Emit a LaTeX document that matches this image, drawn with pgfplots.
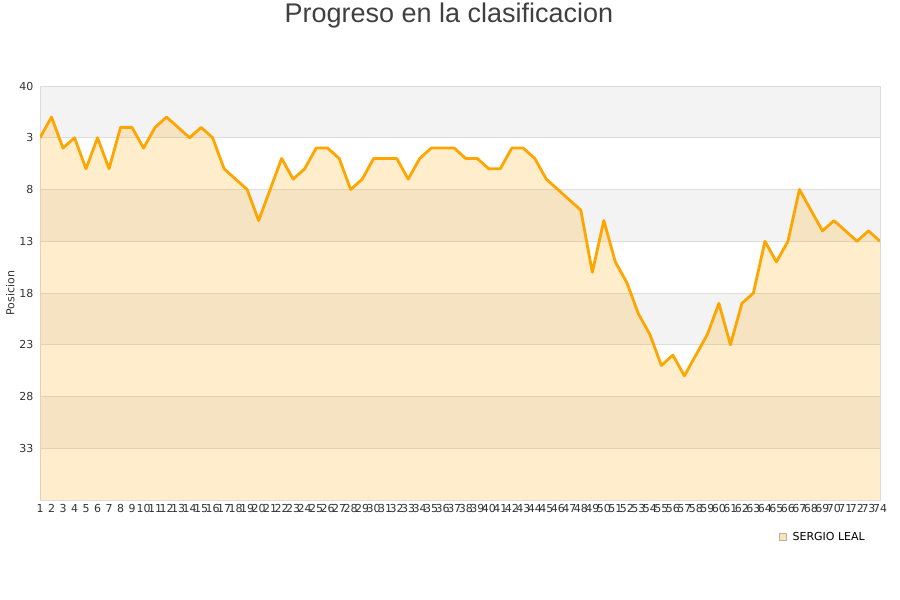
\documentclass[border=0pt]{standalone}
\usepackage{fontspec}
\setmainfont{DejaVu Sans}
\newfontfamily\titlefont{Liberation Sans}
\usepackage{pgfplots}
\pgfplotsset{compat=1.18}
\definecolor{lineor}{HTML}{FFA500}
\definecolor{band}{HTML}{F3F3F3}
\definecolor{gridc}{HTML}{DDDDDD}
\definecolor{txt}{HTML}{333333}
\begin{document}
\begin{tikzpicture}[x=1pt,y=1pt]
\path (0,0) rectangle (900,600);
\node[font=\titlefont\fontsize{27}{31}\selectfont, text=black!75] at (449,584) {Progreso en la clasificacion};
\begin{axis}[
    set layers,
    at={(40pt,100pt)}, anchor=south west,
    scale only axis, width=840pt, height=414pt,
    xmin=1, xmax=74, ymin=-2, ymax=38,
    y dir=reverse,
    xtick={1,...,74},
    ytick={-2,3,8,13,18,23,28,33},
    yticklabels={40,3,8,13,18,23,28,33},
    major tick length=0pt,
    ymajorgrids, grid style={gridc, line width=0.6pt},
    axis line style={gridc, line width=0.8pt},
    tick label style={text=txt},
    xticklabel style={font=\fontsize{11}{13}\selectfont, yshift=-1pt},
    yticklabel style={font=\fontsize{11}{13}\selectfont, xshift=-3pt},
    /pgf/number format/assume math mode=true,
    ylabel={Posicion}, ylabel style={font=\fontsize{11}{13}\selectfont, text=txt, yshift=-2pt},
    legend style={at={(1,0)}, anchor=north east, xshift=-10pt, yshift=-28pt,
        draw=none, fill=none, font=\fontsize{11}{13}\selectfont, text=black,
        /tikz/every odd column/.append style={column sep=4pt}},
    legend image code/.code={\draw[fill=lineor!30, draw=gray!60, line width=0.6pt] (0pt,-3.5pt) rectangle (7pt,3.5pt);},
]
\begin{pgfonlayer}{axis background}
\fill[band] (axis cs:1,-2) rectangle (axis cs:74,3);
\fill[band] (axis cs:1,8) rectangle (axis cs:74,13);
\fill[band] (axis cs:1,18) rectangle (axis cs:74,23);
\fill[band] (axis cs:1,28) rectangle (axis cs:74,33);
\end{pgfonlayer}
\addplot[draw=none, fill=lineor, fill opacity=0.2, forget plot] coordinates {
(1,3) (2,1) (3,4) (4,3) (5,6) (6,3) (7,6) (8,2) (9,2) (10,4)
(11,2) (12,1) (13,2) (14,3) (15,2) (16,3) (17,6) (18,7) (19,8) (20,11)
(21,8) (22,5) (23,7) (24,6) (25,4) (26,4) (27,5) (28,8) (29,7) (30,5)
(31,5) (32,5) (33,7) (34,5) (35,4) (36,4) (37,4) (38,5) (39,5) (40,6)
(41,6) (42,4) (43,4) (44,5) (45,7) (46,8) (47,9) (48,10) (49,16) (50,11)
(51,15) (52,17) (53,20) (54,22) (55,25) (56,24) (57,26) (58,24) (59,22) (60,19)
(61,23) (62,19) (63,18) (64,13) (65,15) (66,13) (67,8) (68,10) (69,12) (70,11)
(71,12) (72,13) (73,12) (74,13)
} -- (axis cs:74,38) -- (axis cs:1,38) -- cycle;
\addplot[draw=lineor, line width=2.8pt, line join=round] coordinates {
(1,3) (2,1) (3,4) (4,3) (5,6) (6,3) (7,6) (8,2) (9,2) (10,4)
(11,2) (12,1) (13,2) (14,3) (15,2) (16,3) (17,6) (18,7) (19,8) (20,11)
(21,8) (22,5) (23,7) (24,6) (25,4) (26,4) (27,5) (28,8) (29,7) (30,5)
(31,5) (32,5) (33,7) (34,5) (35,4) (36,4) (37,4) (38,5) (39,5) (40,6)
(41,6) (42,4) (43,4) (44,5) (45,7) (46,8) (47,9) (48,10) (49,16) (50,11)
(51,15) (52,17) (53,20) (54,22) (55,25) (56,24) (57,26) (58,24) (59,22) (60,19)
(61,23) (62,19) (63,18) (64,13) (65,15) (66,13) (67,8) (68,10) (69,12) (70,11)
(71,12) (72,13) (73,12) (74,13)
};
\addlegendentry{SERGIO LEAL}
\end{axis}
\end{tikzpicture}
\end{document}
